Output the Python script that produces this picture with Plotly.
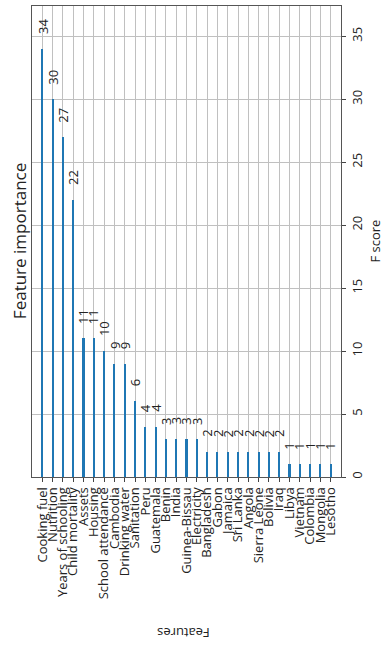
import plotly.graph_objects as go

features = ["Cooking fuel", "Nutrition", "Years of schooling", "Child mortality", "Assets",
            "Housing", "School attendance", "Cambodia", "Drinking water", "Sanitation",
            "Peru", "Guatemala", "Benin", "India", "Guinea-Bissau", "Electricity",
            "Bangladesh", "Gabon", "Jamaica", "Sri Lanka", "Angola", "Sierra Leone",
            "Bolivia", "Iraq", "Libya", "Vietnam", "Colombia", "Mongolia", "Lesotho"]
scores = [34, 30, 27, 22, 11, 11, 10, 9, 9, 6, 4, 4, 3, 3, 3, 3,
          2, 2, 2, 2, 2, 2, 2, 2, 1, 1, 1, 1, 1]
score_ticks = [0, 5, 10, 15, 20, 25, 30, 35]

FONT = "Open Sans, DejaVu Sans, sans-serif"
TXT = "#222222"

fig = go.Figure()
fig.add_trace(go.Bar(x=features, y=scores, width=0.2,
                     marker=dict(color="#1f77b4", line=dict(width=0))))

annotations = []
for f, s in zip(features, scores):
    annotations.append(dict(x=f, y=s + 1, xref="x", yref="y", text=str(s),
                            showarrow=False, textangle=-90, xanchor="center",
                            yanchor="bottom", font=dict(size=13, color=TXT, family=FONT)))

annotations.append(dict(x=-0.04, y=0.5, xref="paper", yref="paper", text="Feature importance",
                        showarrow=False, textangle=-90, xanchor="center", yanchor="middle",
                        font=dict(size=17, color=TXT, family=FONT)))
annotations.append(dict(x=1.107, y=0.5, xref="paper", yref="paper", text="F score",
                        showarrow=False, textangle=-90, xanchor="center", yanchor="middle",
                        font=dict(size=13, color=TXT, family=FONT)))
annotations.append(dict(x=0.49, y=-0.331, xref="paper", yref="paper", text="Features",
                        showarrow=False, textangle=180, xanchor="center", yanchor="middle",
                        font=dict(size=13, color=TXT, family=FONT)))

fig.update_layout(
    width=383, height=646,
    margin=dict(l=32, r=42, t=6, b=169),
    paper_bgcolor="white", plot_bgcolor="white",
    showlegend=False,
    annotations=annotations,
    bargap=0,
    xaxis=dict(type="category", range=[-1, len(features)], tickmode="array",
               tickvals=features, ticktext=features, tickangle=-90,
               tickfont=dict(size=13, color=TXT, family=FONT),
               ticks="outside", ticklen=4, tickcolor="#444",
               showgrid=True, gridcolor="#c0c0c0", gridwidth=1,
               showline=True, linecolor="#555", linewidth=1, mirror=True,
               zeroline=False),
    yaxis=dict(side="right", range=[0, 37.4], tickmode="array", tickvals=score_ticks,
               tickangle=-90, tickfont=dict(size=13, color=TXT, family=FONT),
               ticks="outside", ticklen=4, tickcolor="#444",
               showgrid=True, gridcolor="#c0c0c0", gridwidth=1,
               showline=True, linecolor="#555", linewidth=1, mirror=True,
               zeroline=False),
)

fig.write_html("out.html", config={"displayModeBar": False},
               post_script="document.body.style.margin='0';document.body.style.overflow='hidden';")
